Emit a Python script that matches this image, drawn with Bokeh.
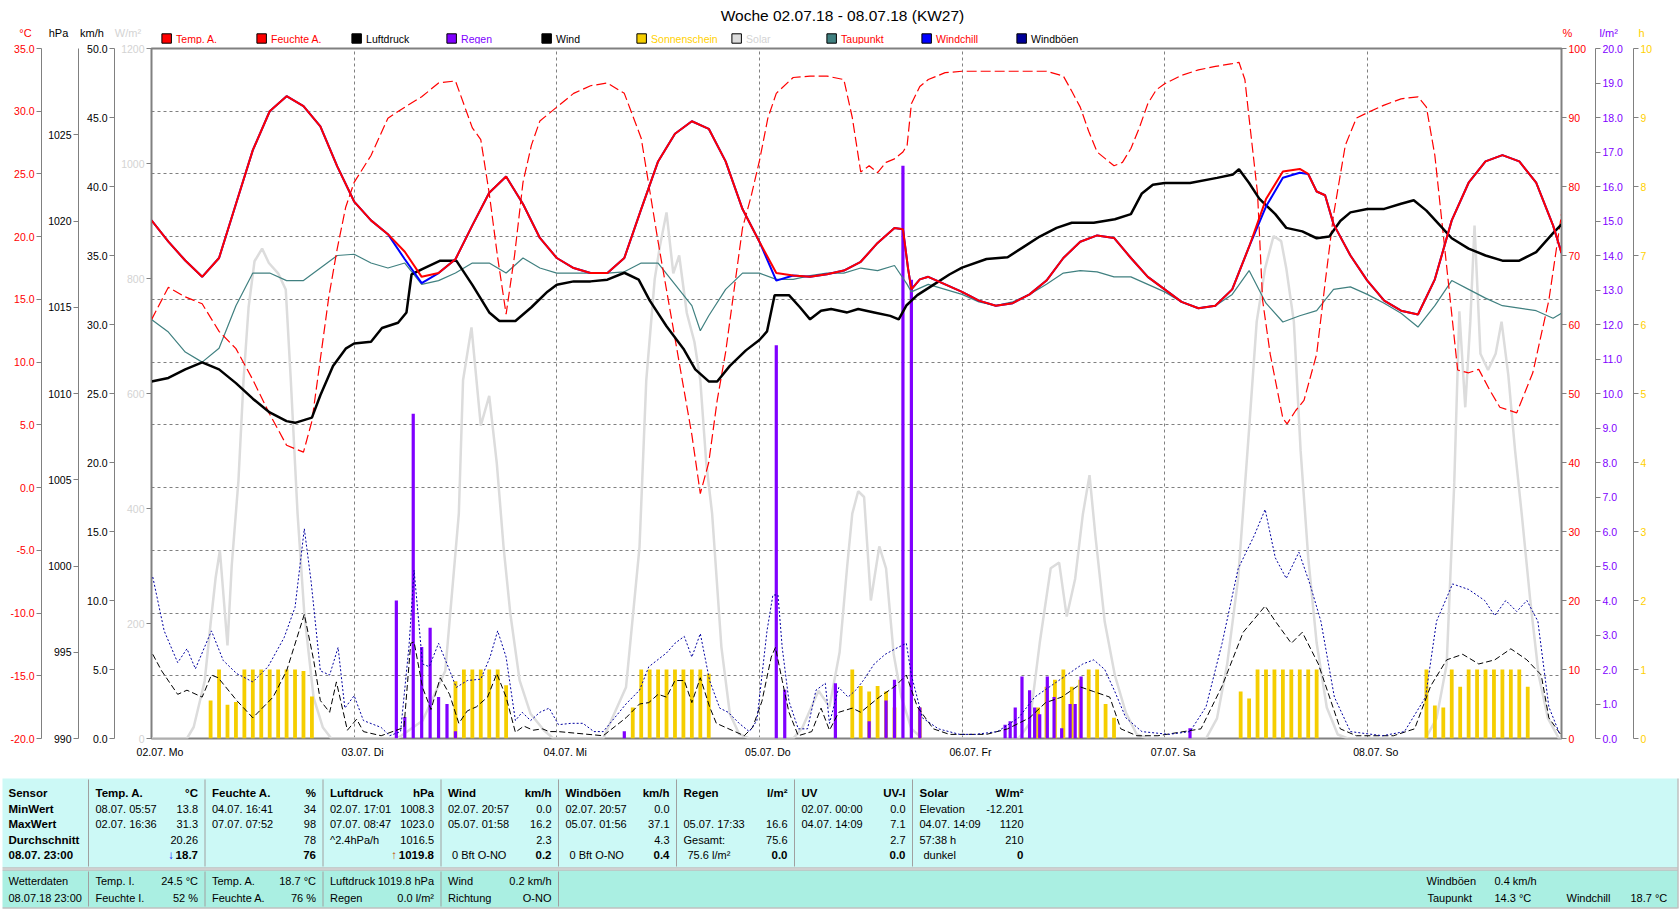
from bokeh.plotting import figure
from bokeh.models import Range1d, LinearAxis, FixedTicker, Grid, PrintfTickFormatter
from bokeh.layouts import column
from bokeh.embed import file_html
from bokeh.resources import INLINE
from bokeh.core.properties import value

# ------------------------------------------------------------------ data
DAY_TICKS = [24, 48, 72, 96, 120, 144]
DAY_LABEL_POS = [1, 25, 49, 73, 97, 121, 145]
DAY_LABELS = ["02.07. Mo", "03.07. Di", "04.07. Mi", "05.07. Do", "06.07. Fr", "07.07. Sa", "08.07. So"]

TEMP_TICKS = [-20, -15, -10, -5, 0, 5, 10, 15, 20, 25, 30, 35]
HPA_TICKS = [990, 995, 1000, 1005, 1010, 1015, 1020, 1025]
KMH_TICKS = [0, 5, 10, 15, 20, 25, 30, 35, 40, 45, 50]
WM2_TICKS = [0, 200, 400, 600, 800, 1000, 1200]
PCT_TICKS = [0, 10, 20, 30, 40, 50, 60, 70, 80, 90, 100]
RAIN_TICKS = [0, 1, 2, 3, 4, 5, 6, 7, 8, 9, 10, 11, 12, 13, 14, 15, 16, 17, 18, 19, 20]
SUN_TICKS = [0, 1, 2, 3, 4, 5, 6, 7, 8, 9, 10]

temp_t = [0, 2, 4, 6, 8, 10, 12, 14, 16, 18, 20, 22,
          24, 26, 28, 30, 32, 34, 36, 38, 40, 42, 44, 46,
          48, 50, 52, 54, 56, 58, 60, 62, 64, 66, 68, 70,
          72, 74, 76, 78, 80, 82, 84, 86, 88, 89, 89.6, 90, 91, 92, 94,
          96, 98, 100, 102, 104, 106, 108, 110, 112, 114, 116, 118,
          120, 122, 124, 126, 128, 130, 132, 134, 136, 137, 138, 139, 140, 142,
          144, 146, 148, 150, 152, 154, 156, 158, 160, 162, 164, 166, 167]
temp_v = [21.3, 19.6, 18.1, 16.8, 18.3, 22.6, 26.9, 30.0, 31.2, 30.4, 28.8, 25.6,
          22.8, 21.3, 20.2, 18.8, 16.8, 17.1, 18.2, 20.9, 23.5, 24.8, 22.6, 19.9,
          18.3, 17.5, 17.1, 17.1, 18.3, 22.2, 26.0, 28.2, 29.2, 28.6, 26.0, 22.2,
          19.6, 17.1, 16.9, 16.8, 17.0, 17.3, 18.0, 19.5, 20.7, 20.6, 17.5, 15.8, 16.6, 16.8, 16.2,
          15.6, 14.9, 14.5, 14.7, 15.4, 16.5, 18.3, 19.6, 20.1, 19.9, 18.3, 16.8,
          15.8, 14.8, 14.3, 14.5, 15.8, 19.2, 23.0, 25.2, 25.4, 25.0, 23.6, 23.3, 21.0, 18.5,
          16.5, 14.9, 14.1, 13.8, 16.6, 21.3, 24.3, 26.0, 26.5, 26.0, 24.3, 20.9, 18.7]

chill_t = temp_t
chill_v = [21.3, 19.6, 18.1, 16.8, 18.3, 22.6, 26.9, 30.0, 31.2, 30.4, 28.8, 25.6,
           22.8, 21.3, 20.2, 18.2, 16.3, 17.1, 18.2, 20.9, 23.5, 24.8, 22.6, 19.9,
           18.3, 17.5, 17.1, 17.1, 18.3, 22.2, 26.0, 28.2, 29.2, 28.6, 26.0, 22.2,
           19.6, 16.5, 16.9, 16.8, 17.0, 17.3, 18.0, 19.5, 20.7, 20.6, 17.5, 15.8, 16.6, 16.8, 16.2,
           15.6, 14.9, 14.5, 14.7, 15.4, 16.5, 18.3, 19.6, 20.1, 19.9, 18.3, 16.8,
           15.8, 14.8, 14.3, 14.5, 15.8, 19.2, 22.4, 24.7, 25.1, 25.0, 23.6, 23.3, 21.0, 18.5,
           16.5, 14.9, 14.1, 13.8, 16.6, 21.3, 24.3, 26.0, 26.5, 26.0, 24.3, 20.9, 18.7]

hum_t = [0, 2, 4, 6, 8, 10, 12, 14, 16, 18, 19, 20, 21, 22, 23,
         24, 26, 28, 30, 32, 34, 36, 38, 39, 40, 41, 42, 43, 44, 45, 46,
         48, 50, 52, 54, 56, 58, 60, 62, 64, 65, 66, 67, 68, 69, 70, 71,
         72, 73, 74, 76, 78, 80, 82, 83, 84, 85, 86, 87, 88, 89, 89.5, 90, 91, 92, 94,
         96, 100, 104, 106, 108, 109, 110, 111, 112, 113, 114, 115, 116, 117, 118, 119,
         120, 122, 124, 126, 128, 128.8, 129.5, 130, 131, 131.6, 132.5, 134, 134.5, 135.5, 136.5, 138, 139, 140, 141.4, 142.7,
         144, 146, 148, 150, 151, 152, 153, 154, 154.7, 156, 157.2, 158.5, 159.7, 161.7, 163.6, 165.5, 167]
hum_v = [60.7, 65.4, 64.0, 63.0, 59.0, 56.5, 52.0, 47.0, 42.5, 41.5, 46.0, 55.0, 64.0, 71.0, 77.0,
         80.6, 84.5, 89.9, 91.5, 93.0, 95.0, 95.3, 88.5, 86.8, 79.0, 69.7, 61.5, 70.0, 80.6, 86.0, 89.5,
         91.5, 93.5, 94.6, 95.0, 93.5, 87.0, 72.0, 58.0, 44.0, 35.5, 40.0, 49.0, 56.0, 65.0, 74.0, 78.5,
         83.7, 89.9, 93.5, 95.8, 96.0, 96.0, 95.5, 90.0, 82.1, 83.0, 82.0, 83.5, 84.0, 85.0, 86.0, 92.0, 94.5, 95.5, 96.5,
         96.7, 96.7, 96.7, 96.7, 96.0, 93.8, 91.5, 88.0, 85.0, 84.0, 83.0, 83.5, 85.5, 88.5, 92.0, 94.0,
         94.9, 96.1, 96.9, 97.4, 97.8, 98.0, 95.5, 89.9, 79.0, 63.5, 55.7, 46.4, 45.6, 47.5, 49.0, 55.7, 66.0, 75.9, 86.0, 89.9,
         90.7, 91.8, 92.7, 93.0, 91.5, 84.5, 73.0, 61.5, 53.4, 53.0, 53.5, 50.5, 48.0, 47.2, 53.0, 63.5, 76.0]

pres_t = [0, 2, 4, 6, 8, 10, 12, 14, 16, 17, 19, 20, 21.5, 23,
          24, 26, 27.3, 29.2, 30.2, 30.8, 32, 34.2, 36.1, 38, 40, 41.2, 43.1, 45, 46.9,
          48, 50, 52, 54, 56, 57.7, 59, 61, 63, 64.4, 66, 67, 68.5, 70.4, 72,
          72.9, 73.8, 75.5, 76.8, 78, 79.3, 80.5, 82.4, 83.7, 85.6, 87.5, 88.5, 89.4, 90.7, 92.6, 94.5,
          96, 98.9, 101.4, 103.3, 105.2, 107.2, 109, 111.6, 114.1, 116, 117.3, 118.6,
          120, 123, 126.2, 128.1, 128.8, 130, 131.2, 133.1, 134.4, 136.3, 138, 139.5, 140.8, 142,
          144, 146, 148, 149.5, 151, 152.5, 154, 156, 158, 160, 162, 164, 166, 167]
pres_v = [1010.7, 1010.9, 1011.4, 1011.8, 1011.4, 1010.6, 1009.7, 1008.9, 1008.4, 1008.3, 1008.6, 1009.9, 1011.6, 1012.6,
          1012.9, 1013.0, 1013.8, 1014.1, 1014.7, 1016.9, 1017.2, 1017.7, 1017.7, 1016.3, 1014.7, 1014.2, 1014.2, 1015.0, 1015.9,
          1016.3, 1016.5, 1016.5, 1016.6, 1017.0, 1016.6, 1015.4, 1013.9, 1012.6, 1011.4, 1010.7, 1010.7, 1011.6, 1012.5, 1013.1,
          1013.6, 1015.7, 1015.7, 1015.0, 1014.3, 1014.8, 1014.9, 1014.7, 1014.9, 1014.7, 1014.5, 1014.3, 1015.1, 1015.7, 1016.3, 1016.9,
          1017.3, 1017.8, 1017.9, 1018.5, 1019.1, 1019.6, 1019.9, 1019.9, 1020.1, 1020.4, 1021.6, 1022.1,
          1022.2, 1022.2, 1022.5, 1022.7, 1023.0, 1022.2, 1021.3, 1020.4, 1019.6, 1019.4, 1019.0, 1019.1, 1020.0, 1020.5,
          1020.7, 1020.7, 1021.0, 1021.2, 1020.6, 1019.8, 1019.0, 1018.4, 1018.0, 1017.7, 1017.7, 1018.2, 1019.3, 1019.8]

dew_t = [0, 2, 4, 6, 8, 10, 12, 14, 16, 18, 20, 22,
         24, 26, 28, 30, 32, 34, 36, 38, 40, 42, 44, 46,
         48, 50, 52, 54, 56, 58, 60, 62, 64, 65, 66, 68, 70,
         72, 74, 76, 78, 80, 82, 84, 86, 88, 89.5, 90, 92, 94,
         96, 98, 100, 102, 104, 106, 108, 110, 112, 114, 116, 118,
         120, 122, 124, 126, 128, 130, 132, 134, 136, 138, 140, 142,
         144, 146, 148, 150, 152, 154, 156, 158, 160, 162, 164, 166, 167]
dew_v = [13.4, 12.4, 10.8, 10.0, 11.1, 14.5, 17.1, 17.1, 16.5, 16.5, 17.5, 18.5,
         18.6, 17.9, 17.5, 17.9, 16.2, 16.5, 17.1, 17.9, 17.9, 17.1, 18.3, 17.5,
         17.1, 17.1, 17.1, 17.1, 17.2, 17.9, 17.9, 16.2, 14.5, 12.5, 13.7, 15.8, 17.1,
         17.1, 16.6, 16.6, 16.9, 17.1, 17.1, 17.5, 17.3, 17.7, 16.2, 15.6, 16.2, 15.8,
         15.4, 14.8, 14.5, 14.8, 15.4, 16.2, 17.1, 17.3, 17.2, 16.8, 16.8, 16.2,
         15.6, 14.8, 14.3, 14.5, 15.4, 17.3, 14.7, 13.2, 13.7, 14.1, 15.8, 16.0,
         15.4, 14.7, 13.9, 12.8, 14.5, 16.5, 15.8, 15.1, 14.5, 14.3, 14.1, 13.5, 13.9]

solar_t = [0, 4.2, 5.0, 6.3, 7.0, 7.6, 8.1, 9.0, 9.5, 10.3, 10.9, 11.5, 12.2, 13.1, 13.9, 15.0, 15.9, 16.5, 17.3, 18.1, 19.2, 20.3, 21.3,
           29.1, 32.1, 34.8, 36.4, 36.9, 37.9, 39.0, 40.0, 40.9, 41.7, 42.5, 43.6, 44.9, 46.5, 47.6,
           53.5, 56.2, 57.8, 58.6, 59.6, 60.2, 61.0, 61.8, 62.5, 63.4, 64.3, 65.0, 65.7, 66.4, 67.5, 68.5, 69.6, 70.8,
           76.0, 77.1, 79.0, 80.3, 81.5, 82.4, 83.0, 83.7, 84.4, 85.2, 86.2, 87.0, 87.9, 88.8, 90.0, 91.3,
           102.7, 104, 105.2, 106.5, 107.5, 108.4, 109.4, 110.3, 111.1, 111.8, 112.9, 114.1, 115.4, 116.7, 118,
           124.9, 126.2, 127.4, 128.7, 130, 130.9, 131.9, 132.9, 133.8, 134.4, 135.3, 136.1, 137, 138, 139.2, 140.5, 141.7,
           150.9, 152.2, 153.4, 154.3, 154.9, 155.6, 156.2, 156.7, 157.4, 158.3, 159.2, 159.9, 160.7, 161.5, 162.3, 163.3, 164.3, 165.4, 166.7, 167]
solar_v = [0, 0, 20, 100, 200, 280, 327, 162, 300, 449, 623, 750, 830, 852, 827, 809, 781, 623, 391, 217, 71, 19, 0,
           0, 31, 118, 391, 623, 715, 544, 596, 478, 333, 217, 101, 43, 14, 0,
           0, 89, 333, 623, 799, 855, 915, 809, 840, 740, 690, 623, 480, 391, 159, 43, 8, 0,
           0, 19, 83, 55, 150, 300, 391, 430, 420, 240, 334, 296, 147, 73, 17, 0,
           0, 26, 166, 296, 306, 212, 278, 389, 458, 352, 203, 110, 45, 7, 0,
           0, 35, 129, 278, 538, 725, 818, 874, 865, 818, 725, 501, 315, 166, 54, 7, 0,
           0, 35, 129, 445, 743, 576, 725, 892, 669, 641, 669, 725, 632, 501, 389, 240, 110, 35, 0, 0]

wind_t = [0.15, 1.2, 3.1, 4.2, 6.0, 7.1, 7.9, 10.1, 12.0, 14.4, 16.0, 18.1, 19.2, 20.0, 21.1, 21.9, 23.2, 24.3, 25.1, 27.2,
          29.9, 30.7, 31.1, 32.1, 33.1, 34.2, 35.3, 36.4, 37.4, 38.5, 39.8, 40.9, 42.0, 43.1, 44.1, 45.2, 46.3, 47.1, 48.2,
          53.5, 56.2, 57.8, 58.9, 60.0, 61.0, 62.0, 63.1, 64.0, 65.0, 66.1, 66.9, 68.0, 69.1, 70.2, 71.2,
          72.3, 73.4, 73.9, 74.7, 75.5, 76.6, 78.2, 79.3, 80.3, 81.4, 83.0, 84.0, 86.2, 88.1, 89.4, 90.7, 92.6, 94.5,
          96.4, 98.9, 101.4, 104, 105.9, 107.8, 109.7, 111.6, 113.5, 114.8, 116.7,
          119.2, 124.3, 126.8, 129.3, 131.9, 133.1, 135, 136.3, 138.2, 140.8, 142.7,
          147.1, 149.6, 151.5, 153.4, 155.3, 157.2, 159.1, 161, 162.9, 164.6, 165.5, 167]
wind_v = [6.1, 4.9, 3.2, 3.5, 3.0, 4.6, 4.4, 2.75, 1.5, 3.0, 4.9, 9.0, 5.7, 2.75, 1.9, 4.1, 0.6, 1.4, 0.5, 0.2,
          0.8, 6.9, 7.0, 3.7, 2.1, 4.4, 3.2, 1.1, 2.0, 2.3, 3.0, 4.7, 3.0, 0.45, 0.9, 0.6, 0.7, 0.5, 0.5,
          0.2, 1.5, 2.5, 2.6, 3.2, 3.0, 4.2, 4.2, 2.6, 4.4, 2.3, 1.1, 0.8, 0.5, 0.2, 0.8,
          2.7, 5.9, 6.6, 4.2, 1.9, 0.2, 0.5, 2.2, 0.6, 1.9, 2.2, 1.9, 3.0, 3.8, 4.6, 2.3, 0.7, 0.3,
          0.3, 0.3, 0.7, 1.5, 2.6, 3.0, 3.8, 3.4, 3.0, 0.7, 0.2,
          0.2, 0.7, 3.8, 7.7, 9.6, 8.5, 6.9, 7.7, 5.4, 0.7, 0.2,
          0.2, 0.7, 3.8, 5.7, 6.1, 5.4, 5.7, 6.5, 5.7, 4.6, 1.5, 0.2]

gust_t = [0.15, 1.5, 3.1, 4.2, 5.2, 7.1, 8.5, 10.1, 12.0, 13.8, 15.7, 17.0, 18.1, 18.9, 20.0, 21.1, 22.1, 22.9, 24.0, 25.1, 27.2, 28.2,
          29.5, 30.5, 31.1, 32.1, 32.9, 34.0, 35.0, 36.1, 37.4, 39.0, 40.1, 41.0, 42.0, 43.1, 43.9, 44.9, 46.0, 47.1, 48.2, 49.7, 51.1, 52.4,
          53.5, 56.2, 57.8, 58.9, 61.0, 62.0, 63.1, 64.0, 65.0, 66.1, 67.3, 68.3, 69.6, 70.8, 71.7,
          72.9, 73.6, 74.2, 74.7, 75.5, 76.6, 77.7, 78.7, 79.8, 80.3, 81.4, 82.5, 83.4, 84.3, 85.6, 86.9, 88.1, 89.4, 90.0, 91.3, 93.2, 95.7,
          97.6, 100.2, 102.7, 104.6, 106.5, 108.4, 110.3, 111.6, 112.9, 114.1, 115.4, 117.3,
          120.5, 123, 124.9, 126.8, 128.7, 130.6, 131.9, 133.1, 134.4, 135.9, 137.2, 138.5, 140.1, 142,
          145.8, 148.4, 150.9, 152.2, 154.1, 156, 157.9, 159.1, 160.4, 161.7, 162.9, 164.2, 165.5, 166.8]
gust_v = [11.7, 7.8, 5.5, 6.5, 5.05, 7.8, 5.65, 4.7, 4.1, 5.2, 7.3, 9.5, 15.2, 11.4, 4.9, 4.6, 6.6, 2.2, 3.1, 1.3, 0.8, 0.2,
          0.5, 6.7, 12.2, 5.4, 5.2, 6.9, 5.4, 3.7, 4.2, 4.3, 5.9, 7.8, 5.9, 1.3, 1.9, 1.3, 1.9, 2.2, 1.0, 1.1, 1.1, 0.5,
          0.5, 2.5, 3.5, 5.2, 6.2, 6.9, 7.4, 5.9, 7.6, 4.2, 2.2, 1.9, 1.1, 0.5, 1.3,
          7.8, 10.4, 10.4, 6.6, 2.7, 0.7, 0.7, 3.5, 4.0, 1.1, 3.7, 3.0, 3.5, 4.2, 5.4, 6.1, 6.5, 6.9, 4.6, 1.5, 0.7, 0.3,
          0.3, 0.5, 1.5, 3.0, 3.8, 4.6, 5.4, 5.7, 5.0, 3.4, 1.5, 0.5,
          0.3, 0.5, 2.3, 6.9, 12.3, 14.7, 16.6, 13.1, 11.6, 13.5, 11.2, 8.5, 3.0, 0.5,
          0.2, 0.5, 3.0, 8.5, 11.2, 10.8, 10.0, 8.9, 10.0, 9.2, 10.0, 8.5, 2.3, 0.3]

rain_t = [29, 30, 31, 32, 33, 34, 35, 36, 56,
          74, 75, 81, 85, 87, 88, 89, 90, 91,
          101.1, 101.7, 102.3, 103.1, 104.0, 104.6, 105.2, 106.1, 106.9, 107.8, 108.8, 109.4, 110.1, 123.0]
rain_v = [4.0, 0.62, 9.41, 2.65, 3.21, 1.2, 1.0, 0.21, 0.21,
          11.4, 1.41, 1.6, 0.5, 1.1, 1.7, 16.6, 13.3, 0.9,
          0.4, 0.5, 0.9, 1.8, 1.4, 0.9, 0.7, 1.8, 1.2, 0.3, 1.0, 1.0, 1.8, 0.3]

sun_t = [7, 8, 9, 10, 11, 12, 13, 14, 15, 16, 17, 18, 19,
         36, 37, 38, 39, 40, 41, 42,
         57, 58, 59, 60, 61, 62, 63, 64, 65, 66,
         83, 84, 85, 86, 87, 88, 91,
         105, 106, 107, 108, 109, 110, 111, 112, 113, 114,
         129, 130, 131, 132, 133, 134, 135, 136, 137, 138,
         151, 152, 153, 154, 155, 156, 157, 158, 159, 160, 161, 162, 163]
sun_v = [0.55, 1.0, 0.49, 0.53, 1.0, 1.0, 1.0, 1.0, 1.0, 1.0, 1.0, 0.98, 0.61,
         0.83, 1.0, 1.0, 1.0, 1.0, 1.0, 0.77,
         0.45, 1.0, 1.0, 1.0, 1.0, 1.0, 1.0, 1.0, 1.0, 0.94,
         1.0, 0.76, 0.68, 0.76, 0.68, 0.45, 0.45,
         0.45, 0.75, 0.85, 1.0, 0.75, 0.85, 1.0, 1.0, 0.5, 0.3,
         0.68, 0.58, 1.0, 1.0, 1.0, 1.0, 1.0, 1.0, 1.0, 1.0,
         1.0, 0.48, 0.45, 1.0, 0.75, 1.0, 1.0, 1.0, 1.0, 1.0, 1.0, 1.0, 0.75]

LEGEND_NAMES = ["Temp. A.", "Feuchte A.", "Luftdruck", "Regen", "Wind", "Sonnenschein",
                "Solar", "Taupunkt", "Windchill", "Windböen"]
TITLE = "Woche 02.07.18 - 08.07.18 (KW27)"
UNIT_TEXTS = ["°C", "hPa", "km/h", "W/m²", "%", "l/m²", "h"]

TABLE_HEAD_L = ["Temp. A.", "Feuchte A.", "Luftdruck", "Wind", "Windböen", "Regen", "UV", "Solar"]
TABLE_HEAD_R = ["°C", "%", "hPa", "km/h", "km/h", "l/m²", "UV-I", "W/m²"]
ROW_LABELS = ["Sensor", "MinWert", "MaxWert", "Durchschnitt", "08.07.  23:00"]
MIN_L = ["08.07.  05:57", "04.07.  16:41", "02.07.  17:01", "02.07.  20:57", "02.07.  20:57", "", "02.07.  00:00", "Elevation"]
MIN_R = ["13.8", "34", "1008.3", "0.0", "0.0", "", "0.0", "-12.201"]
MAX_L = ["02.07.  16:36", "07.07.  07:52", "07.07.  08:47", "05.07.  01:58", "05.07.  01:56", "05.07.  17:33", "04.07.  14:09", "04.07.  14:09"]
MAX_R = ["31.3", "98", "1023.0", "16.2", "37.1", "16.6", "7.1", "1120"]
AVG_L = ["", "", "^2.4hPa/h", "", "", "Gesamt:", "", "57:38 h"]
AVG_R = ["20.26", "78", "1016.5", "2.3", "4.3", "75.6", "2.7", "210"]
NOW_L = ["", "", "", "0 Bft O-NO", "0 Bft O-NO", "75.6 l/m²", "", "dunkel"]
NOW_R = ["18.7", "76", "1019.8", "0.2", "0.4", "0.0", "0.0", "0"]

STATUS_HEAD = ["Wetterdaten", "08.07.18 23:00"]
STATUS_L1 = ["Temp. I.", "Temp. A.", "Luftdruck", "Wind"]
STATUS_R1 = ["24.5 °C", "18.7 °C", "1019.8 hPa", "0.2 km/h"]
STATUS_L2 = ["Feuchte I.", "Feuchte A.", "Regen", "Richtung"]
STATUS_R2 = ["52 %", "76 %", "0.0 l/m²", "O-NO"]
STATUS_EXTRA = ["Windböen", "0.4 km/h", "Taupunkt", "14.3 °C", "Windchill", "18.7 °C"]

# ------------------------------------------------------------------ style / layout
FONT = "Liberation Sans"
GRAY = "#808080"
RED = "#FF0000"
PURPLE = "#8000FF"
GOLD = "#F5CE00"
GOLD_T = "#FFD000"
LGRAY = "#D3D3D3"
SOLAR = "#DCDCDC"
TEAL = "#408080"
W = 1680
H_HEAD = 44
H_MAIN = 733
H_TAB = 909 - H_HEAD - H_MAIN
FL, FR = 151, 1561
FT, FB = 48 - H_HEAD, 738 - H_HEAD


def no_align(fig):
    if "frame_align" in fig.properties():
        fig.frame_align = False


# ---------------- header (title, units, legend row)
hd = figure(width=W, height=H_HEAD, x_range=Range1d(0, W), y_range=Range1d(H_HEAD, 0),
            x_axis_type=None, y_axis_type=None, output_backend="svg", toolbar_location=None,
            min_border=0)
no_align(hd)
hd.outline_line_color = None
hd.background_fill_color = "white"
hd.border_fill_color = "white"

hd.text(x=[842], y=[15], text=[TITLE], text_font=value(FONT), text_font_size="15.5px",
        text_align="center", text_baseline="middle", text_color="black")
unit_x = [25, 58, 91.5, 127.5, 1562, 1599, 1638]
unit_c = [RED, "black", "black", LGRAY, RED, PURPLE, GOLD_T]
hd.text(x=unit_x[:4], y=[32.5] * 4, text=UNIT_TEXTS[:4], text_font=value(FONT), text_font_size="11px",
        text_align="center", text_baseline="middle", text_color=unit_c[:4])
hd.text(x=unit_x[4:], y=[32.5] * 3, text=UNIT_TEXTS[4:], text_font=value(FONT), text_font_size="11px",
        text_align="left", text_baseline="middle", text_color=unit_c[4:])

leg_fill = [RED, RED, "black", PURPLE, "black", GOLD, SOLAR, TEAL, "#0000FF", "#000099"]
leg_text = [RED, RED, "black", PURPLE, "black", GOLD_T, LGRAY, RED, RED, "black"]
leg_x = [161.4 + 95.0 * i for i in range(len(LEGEND_NAMES))]
hd.quad(left=leg_x, right=[x + 9.5 for x in leg_x], top=[33.3] * 10, bottom=[42.7] * 10,
        fill_color=leg_fill, line_color="black", line_width=1)
hd.text(x=[x + 14.2 for x in leg_x], y=[38.3] * 10, text=LEGEND_NAMES, text_font=value(FONT),
        text_font_size="10.5px", text_align="left", text_baseline="middle", text_color=leg_text)

# ---------------- main chart
p = figure(width=W, height=H_MAIN, x_range=Range1d(0, 167), y_range=Range1d(-20, 35),
           x_axis_type=None, y_axis_type=None, output_backend="svg", toolbar_location=None,
           min_border_left=FL, min_border_right=W - FR, min_border_top=FT,
           min_border_bottom=H_MAIN - FB)
no_align(p)
p.outline_line_color = GRAY
p.outline_line_width = 2
p.background_fill_color = "white"
p.border_fill_color = "white"
p.extra_y_ranges = {"hpa": Range1d(990, 1030), "kmh": Range1d(0, 50), "wm2": Range1d(0, 1200),
                    "pct": Range1d(0, 100), "rain": Range1d(0, 20), "sun": Range1d(0, 10)}


def add_axis(side, rng, ticks, fmt, color, pad):
    kw = dict(ticker=FixedTicker(ticks=ticks, minor_ticks=[]),
              formatter=PrintfTickFormatter(format=fmt),
              axis_line_color=GRAY, major_tick_line_color=GRAY,
              major_tick_out=5, major_tick_in=0, minor_tick_out=0, minor_tick_in=0,
              major_label_standoff=2, major_label_text_color=color,
              major_label_text_font=FONT, major_label_text_font_size="10.5px")
    if pad is not None:
        kw.update(axis_label=" ", axis_label_standoff=pad, axis_label_text_font_size="1px")
    ax = LinearAxis(**kw)
    if rng != "default":
        ax.y_range_name = rng
    p.add_layout(ax, side)
    return ax


add_axis("left", "wm2", WM2_TICKS, "%d", LGRAY, 0)
add_axis("left", "kmh", KMH_TICKS, "%.1f", "black", 1)
add_axis("left", "hpa", HPA_TICKS, "%d", "black", 0)
add_axis("left", "default", TEMP_TICKS, "%.1f", RED, None)
add_axis("right", "pct", PCT_TICKS, "%d", RED, 2)
add_axis("right", "rain", RAIN_TICKS, "%.1f", PURPLE, 3)
add_axis("right", "sun", SUN_TICKS, "%d", GOLD_T, None)

xax = LinearAxis(ticker=FixedTicker(ticks=DAY_LABEL_POS, minor_ticks=[]),
                 major_label_overrides={k: v for k, v in zip(DAY_LABEL_POS, DAY_LABELS)},
                 axis_line_color=None, major_tick_line_color=None, minor_tick_line_color=None,
                 major_tick_out=0, major_tick_in=0, major_label_standoff=7,
                 major_label_text_font=FONT, major_label_text_font_size="10.5px",
                 major_label_text_color="black")
p.add_layout(xax, "below")

p.add_layout(Grid(dimension=1, ticker=FixedTicker(ticks=TEMP_TICKS[1:-1], minor_ticks=[]),
                  grid_line_color=GRAY, grid_line_dash="3 3", grid_line_width=1))
p.add_layout(Grid(dimension=0, ticker=FixedTicker(ticks=DAY_TICKS, minor_ticks=[]),
                  grid_line_color=GRAY, grid_line_dash="3 3", grid_line_width=1))

p.line(solar_t, solar_v, y_range_name="wm2", line_color=SOLAR, line_width=2.5)
p.vbar(x=sun_t, top=sun_v, width=0.45, y_range_name="sun", fill_color=GOLD, line_color=None)
p.vbar(x=rain_t, top=rain_v, width=0.38, y_range_name="rain", fill_color=PURPLE, line_color=None)
p.line(wind_t, wind_v, y_range_name="kmh", line_color="black", line_dash="6 3", line_width=1)
p.line(gust_t, gust_v, y_range_name="kmh", line_color="#0000A0", line_dash="2 2", line_width=1)
p.line(dew_t, dew_v, line_color=TEAL, line_width=1.2)
p.line(hum_t, hum_v, y_range_name="pct", line_color=RED, line_dash="10 4", line_width=1.2)
p.line(pres_t, pres_v, y_range_name="hpa", line_color="black", line_width=2.5)
p.line(chill_t, chill_v, line_color="#0000FF", line_width=2)
p.line(temp_t, temp_v, line_color=RED, line_width=2)

# ---------------- table
t = figure(width=W, height=H_TAB, x_range=Range1d(0, W), y_range=Range1d(H_TAB, 0),
           x_axis_type=None, y_axis_type=None, output_backend="svg", toolbar_location=None,
           min_border=0)
no_align(t)
t.outline_line_color = None
t.background_fill_color = "white"
t.border_fill_color = "white"

t.quad(left=[2, 2], right=[1677, 1677], top=[1, 93], bottom=[90, 130],
       fill_color=["#CCF9F6", "#AAEFE2"], line_color=None)
SEPS = [88, 204.5, 322.5, 440.5, 558, 676, 794, 912, 1030]
t.segment(x0=SEPS[:8], y0=[2] * 8, x1=SEPS[:8], y1=[89] * 8, line_color="#A0A0A0", line_width=1)
t.segment(x0=SEPS[:5], y0=[94] * 5, x1=SEPS[:5], y1=[129] * 5, line_color="#A0A0A0", line_width=1)
t.segment(x0=[2, 2, 2, 1677.5], y0=[90.5, 92.5, 130.5, 1], x1=[1677, 1677, 1677, 1677.5],
          y1=[90.5, 92.5, 130.5, 131], line_color="#A0A0A0", line_width=1)

ROWS = [15.5, 31, 46.5, 62, 77.5]
LROWS = [103, 120]
lefts = [s + 7 for s in SEPS[:8]]
rights = [s - 7 for s in SEPS[1:]]


def ttext(xs, ys, texts, align="left", bold=False, color="black", size="11px"):
    t.text(x=xs, y=ys, text=texts, text_font=value(FONT), text_font_size=size,
           text_font_style="bold" if bold else "normal", text_align=align,
           text_baseline="middle", text_color=color)


ttext([8] * 5, ROWS, ROW_LABELS, bold=True, size="11.5px")
ttext(lefts, [ROWS[0]] * 8, TABLE_HEAD_L, bold=True, size="11.5px")
ttext(rights, [ROWS[0]] * 8, TABLE_HEAD_R, align="right", bold=True, size="11.5px")
for row, lvals, rvals in [(ROWS[1], MIN_L, MIN_R), (ROWS[2], MAX_L, MAX_R), (ROWS[3], AVG_L, AVG_R)]:
    ttext(lefts, [row] * 8, lvals)
    ttext(rights, [row] * 8, rvals, align="right")
ttext([lefts[k] + 4 for k in range(8)], [ROWS[4]] * 8, NOW_L)
ttext(rights, [ROWS[4]] * 8, NOW_R, align="right", bold=True, size="11.5px")
ttext([rights[0] - 24], [ROWS[4]], ["↓"], align="right", bold=True, size="11.5px", color="#0000FF")
ttext([rights[2] - 37], [ROWS[4]], ["↑"], align="right", bold=True, size="11.5px", color="#C05000")

ttext([8, 8], LROWS, STATUS_HEAD)
ttext(lefts[:4], [LROWS[0]] * 4, STATUS_L1)
ttext(rights[:4], [LROWS[0]] * 4, STATUS_R1, align="right")
ttext(lefts[:4], [LROWS[1]] * 4, STATUS_L2)
ttext(rights[:4], [LROWS[1]] * 4, STATUS_R2, align="right")
ttext([1426, 1494, 1427, 1494, 1566, 1630], [LROWS[0], LROWS[0], LROWS[1], LROWS[1], LROWS[1], LROWS[1]],
      STATUS_EXTRA)

layout = column(hd, p, t, spacing=0)
open("out.html", "w").write(file_html(layout, INLINE))
